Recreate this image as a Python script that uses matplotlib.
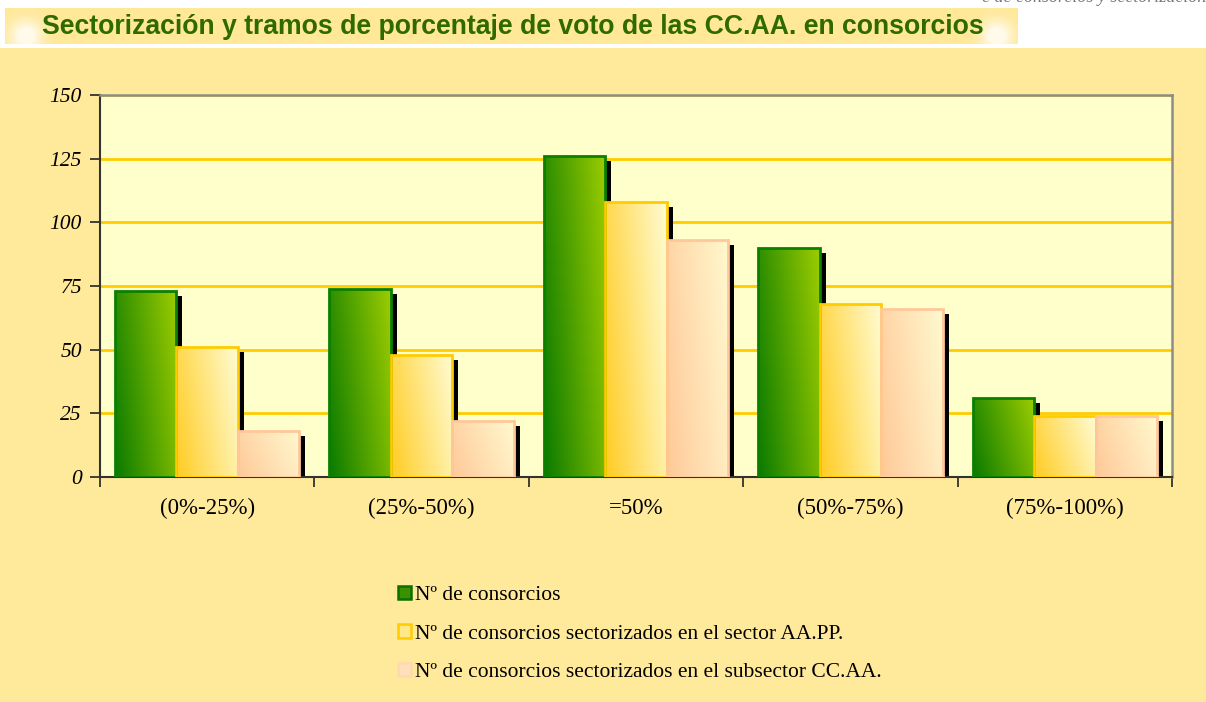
import numpy as np
import matplotlib
matplotlib.use("Agg")
import matplotlib.pyplot as plt
from matplotlib.patches import Rectangle, Patch
from matplotlib.colors import to_rgb
from matplotlib.transforms import ScaledTranslation

# datos
tramos = ["(0%-25%)", "(25%-50%)", "=50%", "(50%-75%)", "(75%-100%)"]
n_consorcios = [73, 74, 126, 90, 31]
n_sector_aapp = [51, 48, 108, 68, 24]
n_subsector_ccaa = [18, 22, 93, 66, 24]
series_nombres = ["Nº de consorcios",
                  "Nº de consorcios sectorizados en el sector AA.PP.",
                  "Nº de consorcios sectorizados en el subsector CC.AA."]
yticks = [0, 25, 50, 75, 100, 125, 150]

# colores (degradado: abajo-izquierda -> arriba-derecha, borde)
estilos = [
    ("#0A7A00", "#9CCC00", "#0B7F00"),
    ("#FFCC22", "#FFFCD2", "#FFCC00"),
    ("#FFC999", "#FFF9CE", "#FFC79A"),
]

FONDO = "#FFE99A"
FONDO_PLOT = "#FFFFCC"
SERIF = "Liberation Serif"

fig = plt.figure(figsize=(12.06, 7.02), dpi=100, facecolor=FONDO)

# franja blanca superior
fig.patches.append(Rectangle((0, 1 - 48 / 702), 1, 48 / 702, transform=fig.transFigure,
                             facecolor="white", edgecolor="none", zorder=0))

# banner del titulo con brillo en los extremos
ax_ban = fig.add_axes([5 / 1206, 1 - 44 / 702, 1013 / 1206, 36 / 702], zorder=1)
ax_ban.set_axis_off()
bx, by = np.meshgrid(np.linspace(0, 1, 400), np.linspace(0, 1, 40))
brillo = np.exp(-((bx * 1013 - 20) ** 2 + ((1 - by) * 36 - 8) ** 2) / 250.0)
brillo += np.exp(-((bx * 1013 - 993) ** 2 + ((1 - by) * 36 - 8) ** 2) / 250.0)
brillo = np.clip(brillo, 0, 0.8)
base = np.array(to_rgb("#FFE898"))
img = base[None, None, :] * (1 - brillo[..., None]) + brillo[..., None]
ax_ban.imshow(img, extent=(0, 1, 0, 1), aspect="auto", interpolation="bilinear")
ax_ban.set_xlim(0, 1)
ax_ban.set_ylim(0, 1)

fig.text(42 / 1206, 1 - 27 / 702,
         "Sectorización y tramos de porcentaje de voto de las CC.AA. en consorcios",
         fontsize=19.2, fontweight="bold", color="#2F6A00", family="Liberation Sans",
         va="center", ha="left", zorder=5)
fig.text(1.0, 1.0 + 2 / 702, "e de consorcios y sectorización", fontsize=13,
         style="italic", color="#777777", family=SERIF,
         ha="right", va="center")

ax = fig.add_axes([100 / 1206, 225 / 702, 1072 / 1206, 382 / 702])
ax.set_facecolor(FONDO_PLOT)

x = np.arange(len(tramos))
ancho = 0.287
valores = [n_consorcios, n_sector_aapp, n_subsector_ccaa]
sombra = ax.transData + ScaledTranslation(6 / 100, -5 / 100, fig.dpi_scale_trans)

n = 64
gx, gy = np.meshgrid(np.linspace(0, 1, n), np.linspace(0, 1, n))
t = np.clip(0.75 * gx + 0.25 * gy, 0, 1)

for i, (vals, (c0, c1, borde)) in enumerate(zip(valores, estilos)):
    pos = x + (i - 1) * ancho
    # sombras
    ax.bar(pos, vals, ancho, color="black", zorder=2, transform=sombra)
    barras = ax.bar(pos, vals, ancho, color=c1, edgecolor="none", zorder=3)
    a, b = np.array(to_rgb(c0)), np.array(to_rgb(c1))
    grad = a[None, None, :] * (1 - t[..., None]) + b[None, None, :] * t[..., None]
    for barra in barras:
        x0, w, h = barra.get_x(), barra.get_width(), barra.get_height()
        im = ax.imshow(grad, extent=(x0, x0 + w, 0, h), origin="lower",
                       aspect="auto", zorder=3.1, interpolation="bilinear")
        im.set_clip_path(barra)
    ax.bar(pos, vals, ancho, fill=False, edgecolor=borde, linewidth=2, zorder=3.2)

ax.set_xlim(-0.5, len(tramos) - 0.5)
ax.set_ylim(0, 150)
ax.set_yticks(yticks)
ax.set_yticklabels([str(v) for v in yticks], fontsize=15.5, style="italic", family=SERIF)
ax.set_xticks(x)
ax.set_xticklabels(tramos, fontsize=16.5, family=SERIF, va="baseline")
ax.set_xticks(np.arange(-0.5, len(tramos)), minor=True)
ax.tick_params(axis="x", which="major", length=0, pad=26.5)
ax.tick_params(axis="x", which="minor", length=7, width=1.2, direction="out", color="#222222")
ax.tick_params(axis="y", length=7, width=1.2, direction="out", color="#222222", pad=6)

ax.grid(axis="y", color="#FFCC00", linewidth=2, zorder=1)
ax.set_axisbelow(True)
for lado in ["top", "right"]:
    ax.spines[lado].set_color("#8C8C8C")
    ax.spines[lado].set_linewidth(1.8)
for lado in ["left", "bottom"]:
    ax.spines[lado].set_color("#333333")
    ax.spines[lado].set_linewidth(1.5)

manejadores = [Patch(facecolor="#3A9200", edgecolor="#0B6F00", linewidth=1.8),
               Patch(facecolor="#FFE888", edgecolor="#FFCC00", linewidth=1.8),
               Patch(facecolor="#FFE0B8", edgecolor="#FFD8B0", linewidth=1.8)]
fig.legend(manejadores, series_nombres, loc="upper left",
           bbox_to_anchor=(387 / 1206, 1 - 575 / 702), frameon=False,
           prop={"family": SERIF, "size": 15.5},
           handlelength=0.6, handleheight=0.6, handletextpad=0.2,
           labelspacing=0.88, borderpad=0)

fig.savefig("out.png", dpi=100, facecolor=FONDO)
